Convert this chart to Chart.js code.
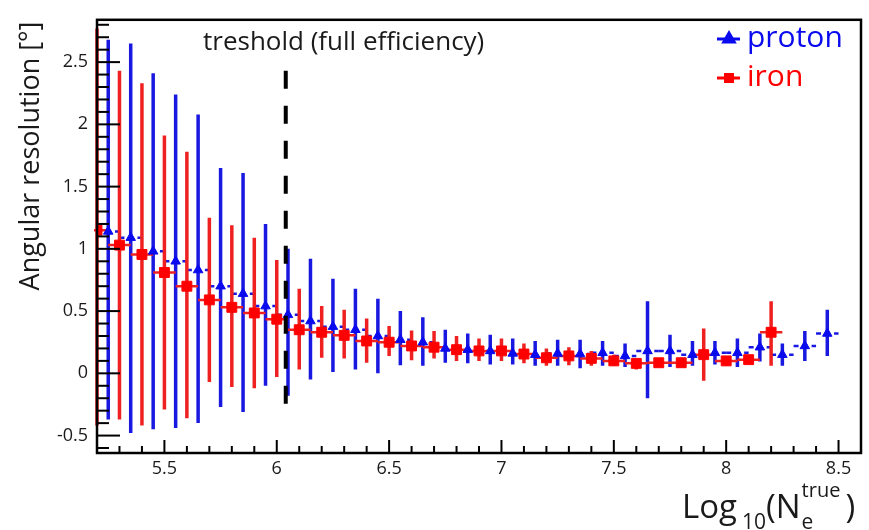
<!DOCTYPE html>
<html>
<head>
<meta charset="utf-8">
<title>Angular resolution</title>
<script src="https://cdn.jsdelivr.net/npm/chart.js@4.4.1/dist/chart.umd.min.js"></script>
<style>
    html, body { margin: 0; padding: 0; background: #fff; }
    #wrap { width: 869px; height: 530px; position: relative; }
</style>
</head>
<body>
<div id="wrap"><canvas id="graphResolution"></canvas></div>
<script>
// ============================================
// Donnees
// ============================================
var xIron = [5.2, 5.3, 5.4, 5.5, 5.6, 5.7, 5.8, 5.9, 6.0, 6.1, 6.2, 6.3, 6.4, 6.5, 6.6, 6.7,
    6.8, 6.9, 7.0, 7.1, 7.2, 7.3, 7.4, 7.5, 7.6, 7.7, 7.8, 7.9, 8.0, 8.1, 8.2];
var yIron = [1.15, 1.03, 0.955, 0.81, 0.70, 0.59, 0.53, 0.485, 0.435, 0.35, 0.33, 0.305, 0.26, 0.25, 0.22, 0.21,
    0.19, 0.18, 0.18, 0.155, 0.125, 0.14, 0.12, 0.10, 0.08, 0.085, 0.085, 0.15, 0.10, 0.11, 0.33];
var hautIron = [2.77, 2.43, 2.33, 1.91, 1.78, 1.25, 1.19, 1.09, 0.91, 0.68, 0.54, 0.51, 0.44, 0.38, 0.345, 0.34,
    0.30, 0.28, 0.28, 0.24, 0.20, 0.21, 0.18, 0.15, 0.11, 0.11, 0.125, 0.36, 0.14, 0.14, 0.58];
var basIron = [-0.42, -0.37, -0.42, -0.29, -0.36, -0.07, -0.11, -0.12, -0.03, 0.03, 0.125, 0.12, 0.085, 0.14, 0.105, 0.12,
    0.10, 0.10, 0.10, 0.08, 0.06, 0.065, 0.06, 0.06, 0.03, 0.06, 0.055, -0.06, 0.06, 0.08, 0.06];

var xProton = [5.25, 5.35, 5.45, 5.55, 5.65, 5.75, 5.85, 5.95, 6.05, 6.15, 6.25, 6.35, 6.45, 6.55, 6.65, 6.75, 6.85,
    6.95, 7.05, 7.15, 7.25, 7.35, 7.45, 7.55, 7.65, 7.75, 7.85, 7.95, 8.05, 8.15, 8.25, 8.35, 8.45];
var yProton = [1.14, 1.09, 0.98, 0.90, 0.83, 0.70, 0.64, 0.54, 0.47, 0.42, 0.375, 0.35, 0.30, 0.27, 0.25, 0.20, 0.19,
    0.18, 0.16, 0.15, 0.16, 0.155, 0.165, 0.14, 0.18, 0.18, 0.15, 0.165, 0.165, 0.21, 0.15, 0.22, 0.32];
var hautProton = [2.68, 2.65, 2.41, 2.24, 2.08, 1.65, 1.61, 1.20, 1.00, 0.92, 0.76, 0.68, 0.60, 0.50, 0.45, 0.35, 0.32,
    0.31, 0.28, 0.26, 0.27, 0.27, 0.26, 0.24, 0.58, 0.31, 0.26, 0.26, 0.28, 0.32, 0.24, 0.34, 0.51];
var basProton = [-0.37, -0.48, -0.45, -0.44, -0.40, -0.27, -0.31, -0.10, -0.18, -0.05, 0.01, 0.03, 0.0, 0.065, 0.06, 0.085, 0.08,
    0.07, 0.07, 0.06, 0.06, 0.04, 0.06, 0.05, -0.20, 0.05, 0.06, 0.07, 0.05, 0.095, 0.06, 0.10, 0.14];

var demiLargeur = 0.05;        // demi-largeur des bins en Log10(Ne)

var seuilX = 6.04;             // ligne "treshold"
var seuilHaut = 2.43;
var seuilBas = -0.37;

var ticksX = [5.5, 6, 6.5, 7, 7.5, 8, 8.5];
var ticksY = [-0.5, 0, 0.5, 1, 1.5, 2, 2.5];

var ROUGE = "#ff0000";
var ROUGE_BARRE = "#ee2020";
var BLEU = "#0a0aee";
var BLEU_BARRE = "#1818e0";
var POLICE = "'Open Sans', 'DejaVu Sans', sans-serif";

function points(xs, ys) {
    var res = [];
    for (var i = 0; i < xs.length; i++) res.push({ x: xs[i], y: ys[i] });
    return res;
}

// ============================================
// Plugin : barres d'erreur, seuil, cadre, textes
// ============================================
function dessinerBarres(chart, xs, ys, hauts, bas, couleur, tirets) {
    var ctx = chart.ctx;
    var sx = chart.scales.x, sy = chart.scales.y;
    ctx.save();
    ctx.strokeStyle = couleur;
    for (var i = 0; i < xs.length; i++) {
        var px = sx.getPixelForValue(xs[i]);
        // verticale
        ctx.setLineDash([]);
        ctx.lineWidth = 3.5;
        ctx.beginPath();
        ctx.moveTo(px, sy.getPixelForValue(hauts[i]));
        ctx.lineTo(px, sy.getPixelForValue(bas[i]));
        ctx.stroke();
        // horizontale
        ctx.setLineDash(tirets ? [5, 4] : []);
        ctx.lineWidth = 2.5;
        var py = sy.getPixelForValue(ys[i]);
        ctx.beginPath();
        ctx.moveTo(sx.getPixelForValue(xs[i] - demiLargeur), py);
        ctx.lineTo(sx.getPixelForValue(xs[i] + demiLargeur), py);
        ctx.stroke();
    }
    ctx.restore();
}

var pluginBarres = {
    id: "barres",
    beforeDatasetsDraw: function (chart) {
        var a = chart.chartArea, ctx = chart.ctx;
        ctx.save();
        ctx.beginPath();
        ctx.rect(a.left - 3, a.top, a.right - a.left + 3, a.bottom - a.top);
        ctx.clip();
        dessinerBarres(chart, xProton, yProton, hautProton, basProton, BLEU_BARRE, true);
        dessinerBarres(chart, xIron, yIron, hautIron, basIron, ROUGE_BARRE, false);
        ctx.restore();
    },
    afterDatasetsDraw: function (chart) {
        var ctx = chart.ctx;
        var sx = chart.scales.x, sy = chart.scales.y;
        // ligne de seuil
        ctx.save();
        ctx.strokeStyle = "#000";
        ctx.lineWidth = 4;
        ctx.setLineDash([18, 17]);
        ctx.beginPath();
        ctx.moveTo(sx.getPixelForValue(seuilX), sy.getPixelForValue(seuilHaut));
        ctx.lineTo(sx.getPixelForValue(seuilX), sy.getPixelForValue(seuilBas));
        ctx.stroke();
        ctx.restore();
    },
    afterDraw: function (chart) {
        var ctx = chart.ctx, a = chart.chartArea;
        var sx = chart.scales.x, sy = chart.scales.y;
        var v, p, maj;

        ctx.save();
        ctx.strokeStyle = "#000";
        ctx.lineWidth = 2;
        // graduations Y (vers l'interieur)
        for (v = -0.6; v <= 2.85; v += 0.1) {
            v = Math.round(v * 10) / 10;
            p = sy.getPixelForValue(v);
            maj = Math.abs(v * 2 - Math.round(v * 2)) < 1e-6;
            ctx.beginPath();
            ctx.moveTo(a.left, p);
            ctx.lineTo(a.left + (maj ? 23 : 12), p);
            ctx.stroke();
        }
        // graduations X
        for (v = 5.2; v <= 8.6; v += 0.1) {
            v = Math.round(v * 10) / 10;
            p = sx.getPixelForValue(v);
            maj = Math.abs(v * 2 - Math.round(v * 2)) < 1e-6;
            ctx.beginPath();
            ctx.moveTo(p, a.bottom);
            ctx.lineTo(p, a.bottom - (maj ? 13 : 7));
            ctx.stroke();
        }
        // cadre
        ctx.lineWidth = 2.5;
        ctx.strokeRect(a.left, a.top, a.right - a.left, a.bottom - a.top);
        ctx.restore();

        // texte du seuil
        ctx.save();
        ctx.fillStyle = "#1a1a1a";
        ctx.font = "26px " + POLICE;
        ctx.textBaseline = "alphabetic";
        ctx.textAlign = "left";
        ctx.fillText("treshold (full efficiency)", a.left + 106, 50);

        // legende
        var lx = a.right - 144;
        ctx.lineWidth = 3;
        ctx.strokeStyle = BLEU;
        ctx.beginPath(); ctx.moveTo(lx, 39); ctx.lineTo(lx + 23, 39); ctx.stroke();
        Chart.helpers.drawPoint(ctx, { pointStyle: "triangle", radius: 6, borderWidth: 1 }, lx + 12, 39);
        ctx.fillStyle = BLEU;
        ctx.fill();
        ctx.strokeStyle = ROUGE;
        ctx.beginPath(); ctx.moveTo(lx, 78); ctx.lineTo(lx + 23, 78); ctx.stroke();
        ctx.fillStyle = ROUGE;
        ctx.fillRect(lx + 7, 73, 10, 10);
        ctx.font = "30px " + POLICE;
        ctx.textBaseline = "middle";
        ctx.fillStyle = BLEU;
        ctx.fillText("proton", lx + 30, 38);
        ctx.fillStyle = ROUGE;
        ctx.fillText("iron", lx + 30, 77);

        // titre axe Y
        ctx.fillStyle = "#1a1a1a";
        ctx.save();
        ctx.translate(31, 156);
        ctx.rotate(-Math.PI / 2);
        ctx.textAlign = "center";
        ctx.font = "27px " + POLICE;
        ctx.fillText("Angular resolution [\u00b0]", 0, 0);
        ctx.restore();

        // titre axe X : Log10(Ne^true)
        ctx.textBaseline = "alphabetic";
        ctx.textAlign = "left";
        var tx = 682, base = 518;
        ctx.font = "33px " + POLICE;
        ctx.fillText("Log", tx, base); tx += ctx.measureText("Log").width + 5;
        ctx.font = "21px " + POLICE;
        ctx.fillText("10", tx, base + 11); tx += ctx.measureText("10").width;
        ctx.font = "33px " + POLICE;
        ctx.fillText("(N", tx, base); tx += ctx.measureText("(N").width + 1;
        ctx.font = "21px " + POLICE;
        ctx.fillText("e", tx, base + 11);
        ctx.font = "20px " + POLICE;
        ctx.fillText("true", tx, base - 21); tx += ctx.measureText("true").width + 5;
        ctx.font = "33px " + POLICE;
        ctx.fillText(")", tx, base);
        ctx.restore();
    }
};

// ============================================
// Graphique
// ============================================
var ctx = document.getElementById("graphResolution").getContext("2d");
new Chart(ctx, {
    type: "scatter",
    data: {
        datasets: [
            {
                label: "proton",
                data: points(xProton, yProton),
                pointStyle: "triangle",
                pointRadius: 5.5,
                pointHoverRadius: 5.5,
                backgroundColor: BLEU,
                borderColor: BLEU,
                borderWidth: 1
            },
            {
                label: "iron",
                data: points(xIron, yIron),
                pointStyle: "rect",
                pointRadius: 7,
                pointHoverRadius: 7,
                backgroundColor: ROUGE,
                borderColor: ROUGE,
                borderWidth: 1
            }
        ]
    },
    options: {
        responsive: true,
        maintainAspectRatio: false,
        animation: false,
        devicePixelRatio: 1,
        layout: { padding: { top: 8, right: 4, left: 0, bottom: 0 } },
        plugins: {
            legend: { display: false },
            tooltip: { enabled: false }
        },
        scales: {
            x: {
                type: "linear",
                min: 5.2,
                max: 8.6,
                grid: { display: false, drawTicks: false },
                border: { display: false },
                afterBuildTicks: function (s) {
                    s.ticks = ticksX.map(function (t) { return { value: t }; });
                },
                ticks: {
                    padding: 5,
                    color: "#1a1a1a",
                    font: { family: POLICE, size: 18 },
                    maxRotation: 0,
                    autoSkip: false,
                    callback: function (v) { return String(v); }
                },
                afterFit: function (s) { s.height = 77; }
            },
            y: {
                type: "linear",
                min: -0.64,
                max: 2.84,
                grid: { display: false, drawTicks: false },
                border: { display: false },
                afterBuildTicks: function (s) {
                    s.ticks = ticksY.map(function (t) { return { value: t }; });
                },
                ticks: {
                    padding: 9,
                    color: "#1a1a1a",
                    font: { family: POLICE, size: 18 },
                    autoSkip: false,
                    callback: function (v) { return String(v); }
                },
                afterFit: function (s) { s.width = 97; }
            }
        }
    },
    plugins: [pluginBarres]
});
</script>
</body>
</html>
